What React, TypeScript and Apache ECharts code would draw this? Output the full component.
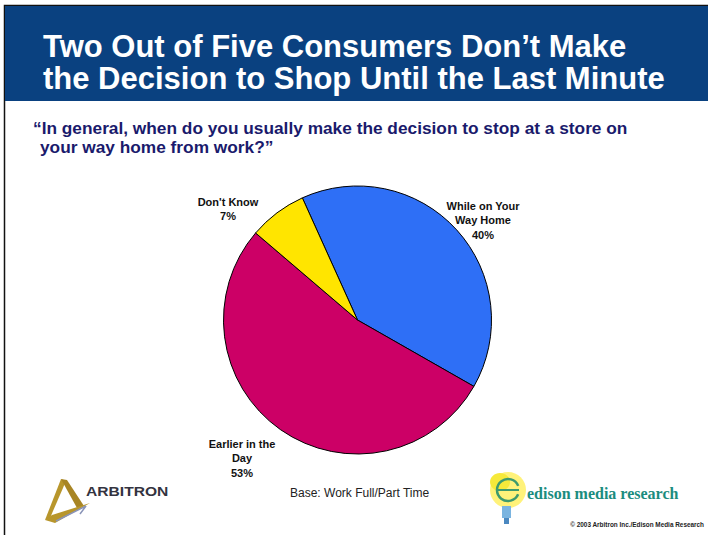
import React, { useEffect, useRef } from "react";
import * as echarts from "echarts";

const categories = ["While on Your\nWay Home", "Earlier in the\nDay", "Don't Know"];
const values = [40, 53, 7];
const sliceColors = ["#2e6ff6", "#cc0066", "#ffe500"];
const titleLines = ["Two Out of Five Consumers Don\u2019t Make", "the Decision to Shop Until the Last Minute"];
const questionLines = ["\u201cIn general, when do you usually make the decision to stop at a store on", "your way home from work?\u201d"];
const baseNote = "Base: Work Full/Part Time";
const copyright = "\u00a9 2003 Arbitron Inc./Edison Media Research";
const labelSpots = [
  [483, 220],
  [242, 458],
  [228, 209],
];

export default function App() {
  const ref = useRef<HTMLDivElement>(null);
  useEffect(() => {
    if (!ref.current) return;
    const chart = echarts.init(ref.current, null, { renderer: "svg" });
    const font = "'Liberation Sans', Arial, sans-serif";
    chart.setOption({
      animation: false,
      backgroundColor: "#ffffff",
      graphic: [
        { type: "rect", shape: { x: 4.5, y: 5.5, width: 710, height: 540 }, style: { fill: "#ffffff", stroke: "#111111", lineWidth: 1.5 }, z: -10 },
        { type: "rect", shape: { x: 5, y: 6, width: 703, height: 95 }, style: { fill: "#0a4180" }, z: -5 },
        { type: "text", x: 43, y: 46, style: { text: titleLines[0], fill: "#ffffff", font: `bold 31px ${font}`, verticalAlign: "middle" } },
        { type: "text", x: 43, y: 78, style: { text: titleLines[1], fill: "#ffffff", font: `bold 31px ${font}`, verticalAlign: "middle" } },
        { type: "text", x: 33, y: 127.5, style: { text: questionLines[0], fill: "#1a1a6c", font: `bold 17.3px ${font}`, verticalAlign: "middle" } },
        { type: "text", x: 40, y: 146.5, style: { text: questionLines[1], fill: "#1a1a6c", font: `bold 17.3px ${font}`, verticalAlign: "middle" } },
        { type: "text", x: 290, y: 493, style: { text: baseNote, fill: "#222222", font: `12px ${font}`, verticalAlign: "middle" } },
        { type: "text", x: 704, y: 524, style: { text: copyright, fill: "#222222", font: `bold 6.4px ${font}`, align: "right", verticalAlign: "middle" } },
        // Arbitron logo
        { type: "polygon", shape: { points: [[61, 479], [66, 481], [50, 518], [45, 520]] }, style: { fill: "#b8962c" } },
        { type: "polygon", shape: { points: [[61, 479], [67, 480], [84, 506], [77, 508]] }, style: { fill: "#a88524" } },
        { type: "polygon", shape: { points: [[45, 520], [52, 515], [90, 503], [55, 523]] }, style: { fill: "#b8962c" } },
        { type: "polyline", shape: { points: [[56, 521], [86, 506], [80, 514]] }, style: { stroke: "#8a94b8", lineWidth: 1.5, fill: null } },
        { type: "text", x: 86, y: 492, scaleX: 1.25, style: { text: "ARBITRON", fill: "#333340", font: `bold 12.5px ${font}`, verticalAlign: "middle" } },
        // Edison logo
        { type: "ellipse", shape: { cx: 508, cy: 490, rx: 18, ry: 18 }, style: { fill: "#fff27a" } },
        { type: "ellipse", shape: { cx: 500, cy: 482, rx: 10, ry: 9 }, style: { fill: "#f6e93a" } },
        { type: "arc", shape: { cx: 508, cy: 490, r: 11, startAngle: 0.4, endAngle: 5.9 }, style: { stroke: "#3e9a6e", lineWidth: 2.5, fill: null } },
        { type: "line", shape: { x1: 498, y1: 490, x2: 519, y2: 490 }, style: { stroke: "#3e9a6e", lineWidth: 2 } },
        { type: "rect", shape: { x: 502, y: 506, width: 9, height: 12 }, style: { fill: "#7ab4e0" } },
        { type: "rect", shape: { x: 504, y: 518, width: 5, height: 6 }, style: { fill: "#4b88c0" } },
        { type: "text", x: 527, y: 493, style: { text: "edison media research", fill: "#1b8c7e", font: "bold 16px 'Liberation Serif', 'Times New Roman', serif", verticalAlign: "middle" } },
      ],
      series: [
        {
          type: "pie",
          center: [357.5, 320],
          radius: 134,
          startAngle: 114.3,
          clockwise: true,
          silent: true,
          itemStyle: { borderColor: "#000000", borderWidth: 1 },
          label: {
            show: true,
            formatter: "{b}\n{c}%",
            color: "#111111",
            fontFamily: font,
            fontWeight: "bold",
            fontSize: 11,
            lineHeight: 14.5,
            align: "center",
          },
          labelLine: { show: false },
          labelLayout: (p: any) => ({
            x: labelSpots[p.dataIndex][0],
            y: labelSpots[p.dataIndex][1],
            align: "center",
            verticalAlign: "middle",
          }),
          data: categories.map((c, i) => ({ name: c, value: values[i], itemStyle: { color: sliceColors[i] } })),
        },
      ],
    });
    return () => chart.dispose();
  }, []);
  return <div ref={ref} style={{ position: "fixed", left: 0, top: 0, width: 708, height: 535 }} />;
}
